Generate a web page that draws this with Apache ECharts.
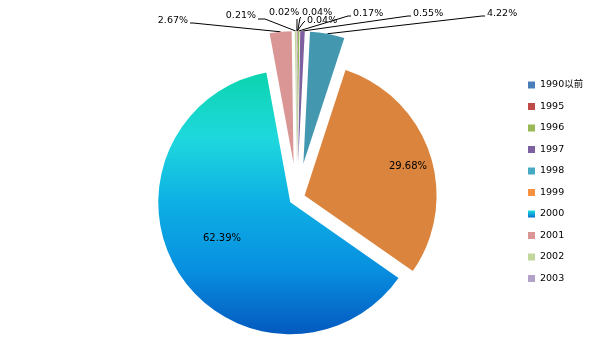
<!DOCTYPE html>
<html><head><meta charset="utf-8">
<script src="https://cdn.jsdelivr.net/npm/echarts@6/dist/echarts.min.js"></script>
<style>html,body{margin:0;padding:0;background:#fff}#c{width:599px;height:363px}</style>
</head><body><div id="c"></div>
<script>
// ---- data ----
const categories = ['1990以前','1995','1996','1997','1998','1999','2000','2001','2002','2003'];
const shares = [0.04, 0.04, 0.17, 0.55, 4.22, 29.68, 62.39, 2.67, 0.21, 0.02];
const majorCategories = ['1999', '2000'];

// ---- styles / layout ----
const FONT = '"DejaVu Sans", "Noto Sans CJK SC", sans-serif';
const CX = 297, CY = 198, R = 132;
const OFFSET_MAJOR = 8, OFFSET_MINOR = 35;
const gradient2000 = new echarts.graphic.LinearGradient(0, 0, 0, 1, [
  {offset: 0, color: '#0CD4AE'},
  {offset: 0.25, color: '#1ED8DD'},
  {offset: 0.5, color: '#0DAFE4'},
  {offset: 0.75, color: '#0890E0'},
  {offset: 1, color: '#0459BF'}
]);
const sliceColors = {
  '1990以前': '#4A7EBB', '1995': '#BE4B48', '1996': '#98B954', '1997': '#7D60A0',
  '1998': '#4398B0', '1999': '#DB843D', '2000': gradient2000,
  '2001': '#D99694', '2002': '#C3D69B', '2003': '#B3A2C7'
};
const legendColors = {
  '1990以前': '#4A7EBB', '1995': '#BE4B48', '1996': '#98B954', '1997': '#7D60A0',
  '1998': '#46AAC5', '1999': '#F69240',
  '2000': new echarts.graphic.LinearGradient(0, 0, 0, 1, [{offset: 0, color: '#1EE0E0'}, {offset: 1, color: '#0A6FD0'}]),
  '2001': '#D99694', '2002': '#C3D69B', '2003': '#B3A2C7'
};
// label placement (text anchor + leader line elbow/end)
const labelSpots = {
  '1990以前': {x: 307, y: 21, align: 'left', line: [[303, 23], [305, 21]]},
  '1995':    {x: 302, y: 13, align: 'left', line: [[300, 18], [301, 17]]},
  '1996':    {x: 353, y: 14, align: 'left', line: [[348, 16], [351, 16]]},
  '1997':    {x: 413, y: 14, align: 'left', line: [[408, 16], [411, 16]]},
  '1998':    {x: 487, y: 14, align: 'left', line: [[482, 16], [485, 16]]},
  '1999':    {x: 408, y: 166, align: 'center'},
  '2000':    {x: 222, y: 238, align: 'center'},
  '2001':    {x: 188, y: 21, align: 'right', line: [[193, 23], [190, 23]]},
  '2002':    {x: 256, y: 16, align: 'right', line: [[265, 19], [258, 19]]},
  '2003':    {x: 269, y: 13, align: 'left', line: [[297, 20], [297, 19]]}
};

function gapItem(v) {
  return {name: '', value: v,
    itemStyle: {color: 'rgba(0,0,0,0)'}, label: {show: false}, labelLine: {show: false},
    emphasis: {disabled: true}, tooltip: {show: false}};
}

// one exploded pie layer per slice: each layer shows only its own slice
const total = shares.reduce((a, b) => a + b, 0);
let cum = 0;
const series = categories.map((c, i) => {
  const before = cum, v = shares[i];
  cum += v;
  const after = total - cum;
  const mid = (before + v / 2) / total * 2 * Math.PI;
  const major = majorCategories.includes(c);
  const off = major ? OFFSET_MAJOR : OFFSET_MINOR;
  const data = [];
  if (before > 1e-9) data.push(gapItem(before));
  const idx = data.length;
  data.push({name: c, value: v, itemStyle: {color: sliceColors[c]}});
  if (after > 1e-9) data.push(gapItem(after));
  const spot = labelSpots[c];
  return {
    type: 'pie',
    name: c,
    center: [CX + off * Math.sin(mid), CY - off * Math.cos(mid)],
    radius: [0, R],
    startAngle: 90,
    clockwise: true,
    minAngle: 0,
    avoidLabelOverlap: false,
    animation: false,
    silent: true,
    itemStyle: {borderWidth: 0},
    emphasis: {scale: false},
    label: {
      show: true,
      position: major ? 'inside' : 'outside',
      fontFamily: FONT, fontSize: major ? 10 : 9.5, color: '#000',
      formatter: p => p.value.toFixed(2) + '%'
    },
    labelLine: {show: !major, length: 8, length2: 8, lineStyle: {color: '#000', width: 1}},
    labelLayout: function (params) {
      if (params.dataIndex !== idx) return {};
      const out = {x: spot.x, y: spot.y, align: spot.align, verticalAlign: 'middle'};
      if (spot.line && params.labelLinePoints) {
        out.labelLinePoints = [params.labelLinePoints[0]].concat(spot.line);
      }
      return out;
    },
    data: data
  };
});

const chart = echarts.init(document.getElementById('c'), null, {renderer: 'canvas'});
chart.setOption({
  backgroundColor: '#fff',
  legend: {
    orient: 'vertical',
    left: 523,
    top: 74,
    itemWidth: 7,
    itemHeight: 7,
    itemGap: 9.5,
    icon: 'rect',
    selectedMode: false,
    textStyle: {fontFamily: FONT, fontSize: 9.5, color: '#000', lineHeight: 12},
    data: categories.map(c => ({name: c, itemStyle: {color: legendColors[c]}}))
  },
  series: series
});
</script>
</body></html>
